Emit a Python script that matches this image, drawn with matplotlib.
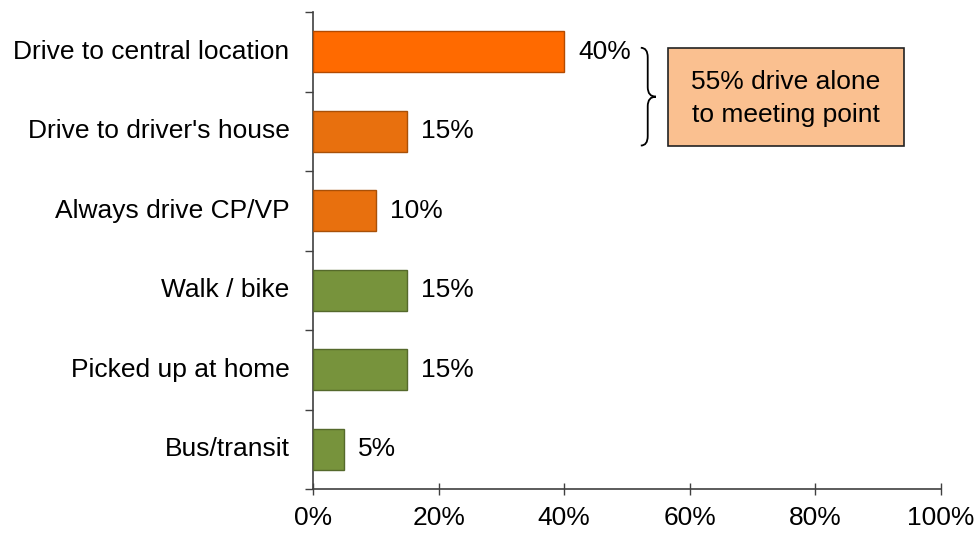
import matplotlib
matplotlib.use('Agg')
import matplotlib.pyplot as plt
import numpy as np
from matplotlib.path import Path
from matplotlib.patches import PathPatch, Rectangle

categories = ['Drive to central location', "Drive to driver's house",
              'Always drive CP/VP', 'Walk / bike', 'Picked up at home',
              'Bus/transit']
shares = [0.40, 0.15, 0.10, 0.15, 0.15, 0.05]
bar_colors = ['#FF6A00', '#E8700E', '#E8700E', '#77933C', '#77933C', '#77933C']
edge_colors = ['#B34A00', '#A85008', '#A85008', '#55692B', '#55692B', '#55692B']
x_ticks = [0, 0.2, 0.4, 0.6, 0.8, 1.0]
x_ticklabels = ['0%', '20%', '40%', '60%', '80%', '100%']
callout = '55% drive alone\nto meeting point'

plt.rcParams['font.family'] = ['Liberation Sans', 'DejaVu Sans']
FS = 19

fig = plt.figure(figsize=(9.76, 5.33), dpi=100)
ax = fig.add_axes([313/976, 1 - 489/533, 628/976, 477/533])

y = np.arange(len(categories))
ax.barh(y, shares, height=0.52, color=bar_colors, edgecolor=edge_colors,
        linewidth=1.0, zorder=3)

for yi, v in zip(y, shares):
    ax.annotate('{:.0%}'.format(v), (v, yi), xytext=(10, 0),
                textcoords='offset points', va='center', ha='left',
                fontsize=FS)

ax.set_xlim(0, 1.0)
ax.set_ylim(len(categories) - 0.5, -0.5)

# category labels placed at bar centres, ticks at boundaries
ax.set_yticks(np.arange(len(categories) + 1) - 0.5)
ax.set_yticklabels([])
ax.tick_params(axis='y', direction='out', length=6, width=1, color='#404040')
for yi, c in zip(y, categories):
    ax.annotate(c, (0, yi), xytext=(-17, 0), textcoords='offset points',
                ha='right', va='center', fontsize=FS)

ax.set_xticks(x_ticks)
ax.set_xticklabels(x_ticklabels, fontsize=FS)
ax.tick_params(axis='x', direction='inout', length=8, width=1,
               color='#404040', pad=8)

for s in ['top', 'right']:
    ax.spines[s].set_visible(False)
for s in ['left', 'bottom']:
    ax.spines[s].set_color('#404040')
    ax.spines[s].set_linewidth(1.2)

# curly brace grouping the first two bars
xa, xb, xc = 0.522, 0.533, 0.546
yt, ym, yb, r = -0.05, 0.565, 1.18, 0.12
verts = [(xa, yt), (xb, yt), (xb, yt + r), (xb, ym - r), (xb, ym), (xc, ym),
         (xb, ym), (xb, ym + r), (xb, yb - r), (xb, yb), (xa, yb)]
codes = [Path.MOVETO, Path.CURVE3, Path.CURVE3, Path.LINETO, Path.CURVE3,
         Path.CURVE3, Path.CURVE3, Path.CURVE3, Path.LINETO, Path.CURVE3,
         Path.CURVE3]
ax.add_patch(PathPatch(Path(verts, codes), fill=False, lw=1.3,
                       edgecolor='black', clip_on=False))

ax.add_patch(Rectangle((0.565, yt), 0.376, yb - yt, facecolor='#FAC090',
                       edgecolor='#222222', lw=1.2, clip_on=False, zorder=4))
ax.text(0.753, ym + 0.02, callout, ha='center', va='center', fontsize=FS,
        linespacing=1.45, zorder=5)

fig.savefig('out.png', dpi=100)
